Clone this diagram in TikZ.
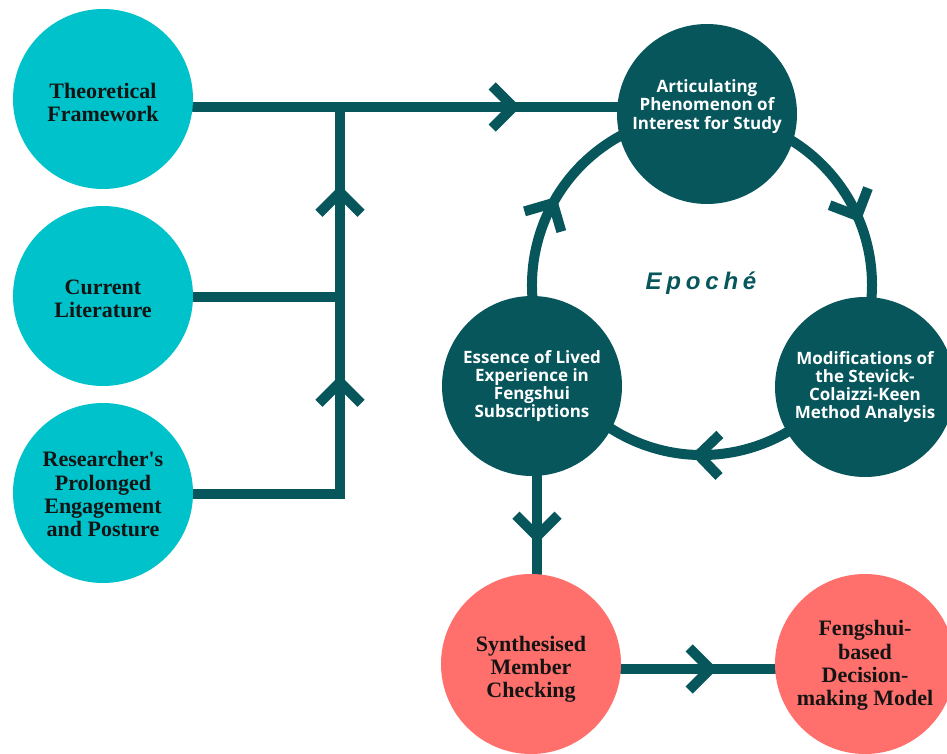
\documentclass[tikz,border=0pt]{standalone}
\usepackage{fontspec}
\setmainfont{Liberation Serif}
\newfontfamily\nodeserif[Ligatures=TeXOff]{Liberation Serif}
\newfontfamily\stagesans{Open Sans}
\newfontfamily\epochefont[LetterSpace=20]{Liberation Sans}
\usetikzlibrary{decorations.markings}

\definecolor{deepteal}{HTML}{07565C}
\definecolor{aqua}{HTML}{00C2CB}
\definecolor{coral}{HTML}{FF6F6B}
\definecolor{ink}{HTML}{141414}

% centred lines; extra room above pushes the block down, extra room below lifts it
\newcommand\lowerlines[2]{\raisebox{0pt}[\dimexpr\height+#1\relax][\depth]{\begin{tabular}{@{}c@{}}#2\end{tabular}}}
\newcommand\liftlines[2]{\raisebox{0pt}[\height][\dimexpr\depth+#1\relax]{\begin{tabular}{@{}c@{}}#2\end{tabular}}}

\pgfdeclarelayer{paper}
\pgfdeclarelayer{links}
\pgfsetlayers{paper,links,main}

\tikzset{
  inputnode/.style={circle, fill=aqua, minimum size=180pt, inner sep=0pt,
    align=center, text=ink, font=\nodeserif\bfseries\fontsize{22}{23.2}\selectfont},
  outnode/.style={inputnode, fill=coral},
  stagenode/.style={circle, fill=deepteal, minimum size=180pt, inner sep=0pt,
    align=center, text=white, font=\stagesans\bfseries\fontsize{17}{18}\selectfont},
  flow/.style={draw=deepteal, line width=10pt},
  chevron/.style={postaction={decorate, decoration={markings,
    mark=at position #1 with {\draw[deepteal, line width=10pt, line cap=butt,
      line join=miter] (-21pt,21pt) -- (0pt,0pt) -- (-21pt,-21pt);}}}},
}

\begin{document}
\begin{tikzpicture}[x=1pt, y=-1pt]
  \useasboundingbox (0,0) rectangle (947,754);
  \begin{pgfonlayer}{paper}
    \fill[white] (0,0) rectangle (947,754);
  \end{pgfonlayer}

  % inputs
  \node[inputnode] (theo) at (103,99)  {\lowerlines{12pt}{Theoretical\\Framework}};
  \node[inputnode] (cur)  at (103,296) {\lowerlines{10pt}{Current\\Literature}};
  \node[inputnode] (res)  at (103,493) {\lowerlines{8pt}{Researcher's\\Prolonged\\Engagement\\and Posture}};

  % analysis cycle
  \coordinate (ring) at (702,285);
  \node[stagenode] (art) at (707,114)
    {\liftlines{14pt}{Articulating\\Phenomenon of\\Interest for Study}};
  \node[stagenode] (mod) at (865,387) {Modifications of\\the Stevick-\\Colaizzi-Keen\\Method Analysis};
  \node[stagenode] (ess) at (532,386) {Essence of Lived\\Experience in\\Fengshui\\Subscriptions};
  \node[text=deepteal, anchor=base, font=\epochefont\bfseries\itshape\fontsize{24}{28}\selectfont]
    (epoche) at (701,289) {Epoché};

  % outputs
  \node[outnode] (syn) at (531,664) {\lowerlines{12pt}{Synthesised\\Member\\Checking}};
  \node[outnode] (fen) at (865,664) {\lowerlines{4pt}{Fengshui-\\based\\Decision-\\making Model}};

  % junction points of the input bus
  \coordinate (top) at (340,107);
  \coordinate (mid) at (340,297);
  \coordinate (low) at (340,493.5);

  \begin{pgfonlayer}{links}
    \draw[flow, line cap=round, chevron=320pt] (theo.east |- top) -- (art.center |- top);
    \draw[flow, line cap=round] (cur.east |- mid) -- (mid);
    \draw[flow, line cap=round, line join=miter, chevron=258pt, chevron=448pt]
      (res.east |- low) -- (low) -- (top);

    \draw[flow, chevron=0.55] ([shift={(-90:170)}]ring) arc[start angle=-90, end angle=30, radius=170];
    \draw[flow, chevron=0.51] ([shift={(30:170)}]ring) arc[start angle=30, end angle=150, radius=170];
    \draw[flow, chevron=0.49] ([shift={(150:170)}]ring) arc[start angle=150, end angle=270, radius=170];

    \draw[flow, line cap=round, chevron=60pt]
      ([xshift=5pt]ess.south) -- ([xshift=5pt]ess.south |- syn.north);
    \draw[flow, line cap=round, chevron=89pt]
      ([yshift=-5pt]syn.east) -- ([yshift=-5pt]fen.west);
  \end{pgfonlayer}
\end{tikzpicture}
\end{document}
